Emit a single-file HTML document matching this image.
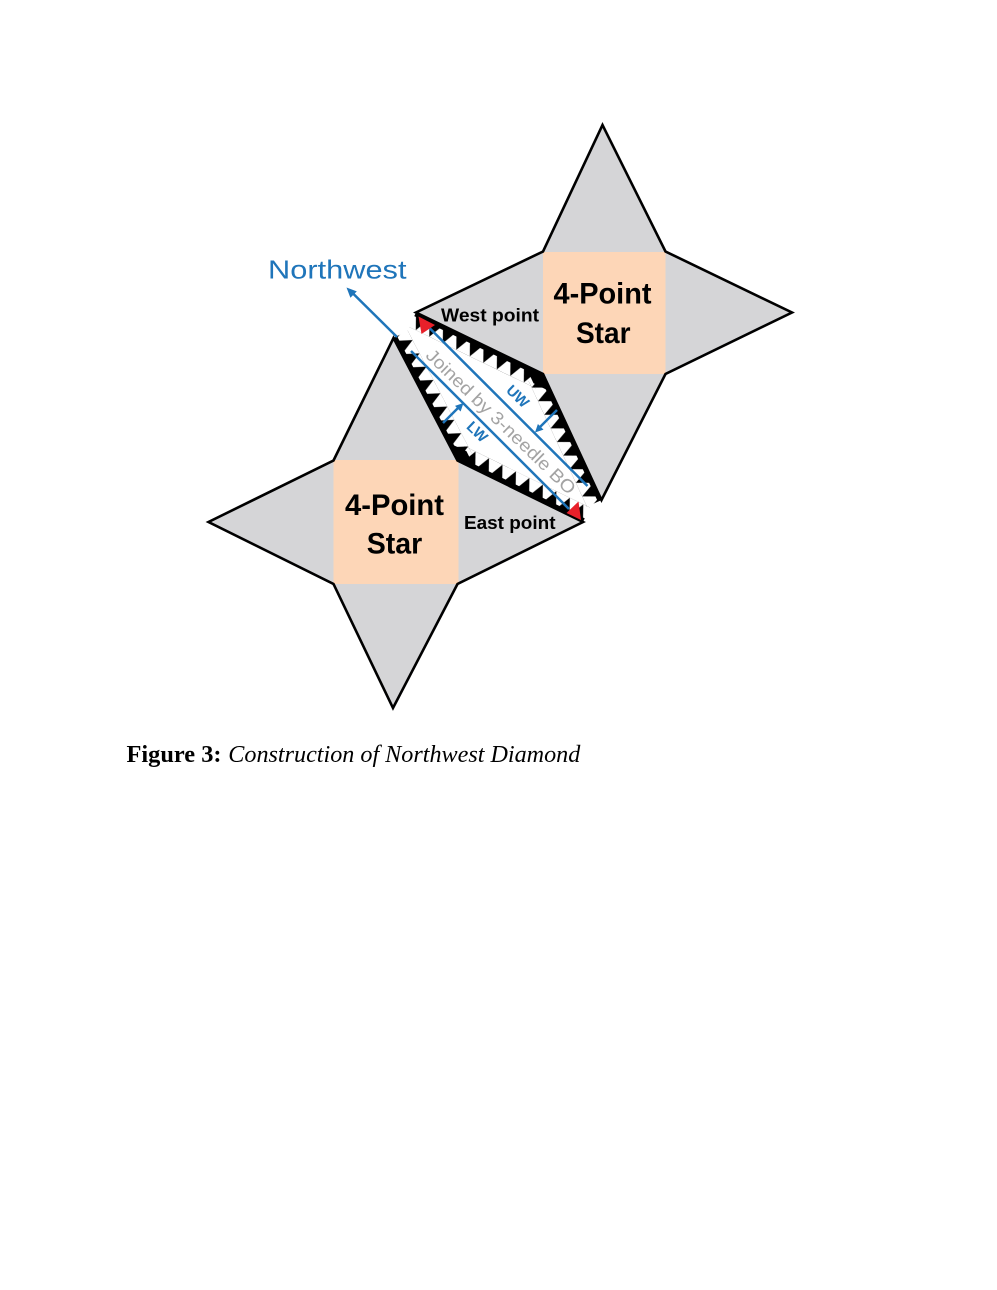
<!DOCTYPE html>
<html>
<head>
<meta charset="utf-8">
<style>
  html,body{margin:0;padding:0;background:#fff;}
  svg{display:block;}
</style>
</head>
<body>
<svg width="997" height="1290" viewBox="0 0 997 1290" xmlns="http://www.w3.org/2000/svg">
  <defs>
    <pattern id="teeth" patternUnits="userSpaceOnUse" x="0" y="0" width="15" height="16">
      <polygon points="0,0 15,0 7.5,16" fill="#000"/>
    </pattern>
  </defs>
  <rect x="0" y="0" width="997" height="1290" fill="#fff"/>

  <!-- Upper star -->
  <polygon points="602.5,125 665.5,251.5 792,312.5 665.5,374 601.5,500 543,374 416,312.5 543,251.5" fill="#d5d5d7"/>
  <rect x="543" y="252" width="122.5" height="122" fill="#fdd6b7"/>
  <polygon points="602.5,125 665.5,251.5 792,312.5 665.5,374 601.5,500 543,374 416,312.5 543,251.5" fill="none" stroke="#000" stroke-width="2.6" stroke-linejoin="miter"/>

  <!-- Lower star -->
  <polygon points="393.5,338 457.5,460.5 583,522 457.5,584 393,708 333.5,584 208.5,522 333.5,460.5" fill="#d5d5d7"/>
  <rect x="333.5" y="460" width="125" height="124" fill="#fdd6b7"/>
  <polygon points="393.5,338 457.5,460.5 583,522 457.5,584 393,708 333.5,584 208.5,522 333.5,460.5" fill="none" stroke="#000" stroke-width="2.6" stroke-linejoin="miter"/>

  <!-- Zigzag bands -->
  <g transform="translate(416,312.5) rotate(25.84)">
    <rect x="0" y="0" width="141.1" height="16" fill="url(#teeth)"/>
    <rect x="0" y="0" width="141.1" height="4" fill="#000"/>
  </g>
  <g transform="translate(543,374) rotate(65.1)">
    <rect x="0" y="0" width="138.9" height="16" fill="url(#teeth)"/>
    <rect x="0" y="0" width="138.9" height="4" fill="#000"/>
  </g>
  <g transform="translate(457.5,460.5) rotate(242.4)">
    <rect x="0" y="0" width="138.2" height="16" fill="url(#teeth)"/>
    <rect x="0" y="0" width="138.2" height="4" fill="#000"/>
  </g>
  <g transform="translate(583,522) rotate(206.1)">
    <rect x="0" y="0" width="139.8" height="16" fill="url(#teeth)"/>
    <rect x="0" y="0" width="139.8" height="4" fill="#000"/>
  </g>
  <!-- corner blobs -->
  <polygon points="525,365.3 543,374 551.4,392.1 533.5,383.2" fill="#000"/>
  <polygon points="448.3,442.8 457.5,460.5 475.5,469.3 466.5,451.2" fill="#000"/>

  <!-- Blue lines -->
  <g stroke="#1f75ba" stroke-width="2.5" fill="none" stroke-linecap="butt">
    <line x1="352" y1="292.5" x2="397" y2="337"/>
    <line x1="411" y1="351" x2="569" y2="509"/>
    <line x1="424" y1="322.5" x2="587.5" y2="486"/>
    <line x1="540" y1="427" x2="557" y2="410"/>
    <line x1="443" y1="423" x2="458" y2="408"/>
  </g>
  <g fill="#1f75ba">
    <polygon points="346.5,287.5 356.8,291.4 350.4,297.8"/>
    <polygon points="535,432.5 543.5,429.6 537.9,424"/>
    <polygon points="463.5,403 460.6,411.5 455,405.9"/>
  </g>

  <!-- Red triangles -->
  <polygon points="418.5,316.5 435,325 421.5,334" fill="#e8202a"/>
  <polygon points="578.5,501.5 581,520 566.5,513" fill="#e8202a"/>

  <!-- Rotated labels -->
  <g transform="translate(500.8,421.7) rotate(44)">
    <text x="0" y="6" text-anchor="middle" font-family="Liberation Sans, sans-serif" font-size="18" fill="#a3a3a3" textLength="200" lengthAdjust="spacingAndGlyphs">Joined by 3-needle BO</text>
  </g>
  <g transform="translate(518,396) rotate(44)">
    <text x="0" y="5.5" text-anchor="middle" font-family="Liberation Sans, sans-serif" font-size="15" font-weight="bold" fill="#1f75ba">UW</text>
  </g>
  <g transform="translate(477.5,431.5) rotate(44)">
    <text x="0" y="5.5" text-anchor="middle" font-family="Liberation Sans, sans-serif" font-size="15" font-weight="bold" fill="#1f75ba">LW</text>
  </g>

  <!-- Labels -->
  <text x="268" y="278.5" font-family="Liberation Sans, sans-serif" font-size="26" fill="#1f75ba" textLength="138.5" lengthAdjust="spacingAndGlyphs">Northwest</text>
  <text x="441" y="321.7" font-family="Liberation Sans, sans-serif" font-size="18.5" font-weight="bold" fill="#000" textLength="98" lengthAdjust="spacingAndGlyphs">West point</text>
  <text x="464" y="529" font-family="Liberation Sans, sans-serif" font-size="18.5" font-weight="bold" fill="#000" textLength="91.5" lengthAdjust="spacingAndGlyphs">East point</text>

  <text x="553.5" y="303.5" font-family="Liberation Sans, sans-serif" font-size="30" font-weight="bold" fill="#000" textLength="98" lengthAdjust="spacingAndGlyphs">4-Point</text>
  <text x="576" y="343" font-family="Liberation Sans, sans-serif" font-size="30" font-weight="bold" fill="#000" textLength="54.5" lengthAdjust="spacingAndGlyphs">Star</text>

  <text x="345" y="515" font-family="Liberation Sans, sans-serif" font-size="30" font-weight="bold" fill="#000" textLength="99" lengthAdjust="spacingAndGlyphs">4-Point</text>
  <text x="366.7" y="553.5" font-family="Liberation Sans, sans-serif" font-size="30" font-weight="bold" fill="#000" textLength="55.5" lengthAdjust="spacingAndGlyphs">Star</text>

  <!-- Caption -->
  <text x="126.5" y="762" font-family="Liberation Serif, serif" font-size="24" font-weight="bold" fill="#000" textLength="95" lengthAdjust="spacingAndGlyphs">Figure 3:</text>
  <text x="228.3" y="762" font-family="Liberation Serif, serif" font-size="24" font-style="italic" fill="#000" textLength="352" lengthAdjust="spacingAndGlyphs">Construction of Northwest Diamond</text>
</svg>
</body>
</html>
